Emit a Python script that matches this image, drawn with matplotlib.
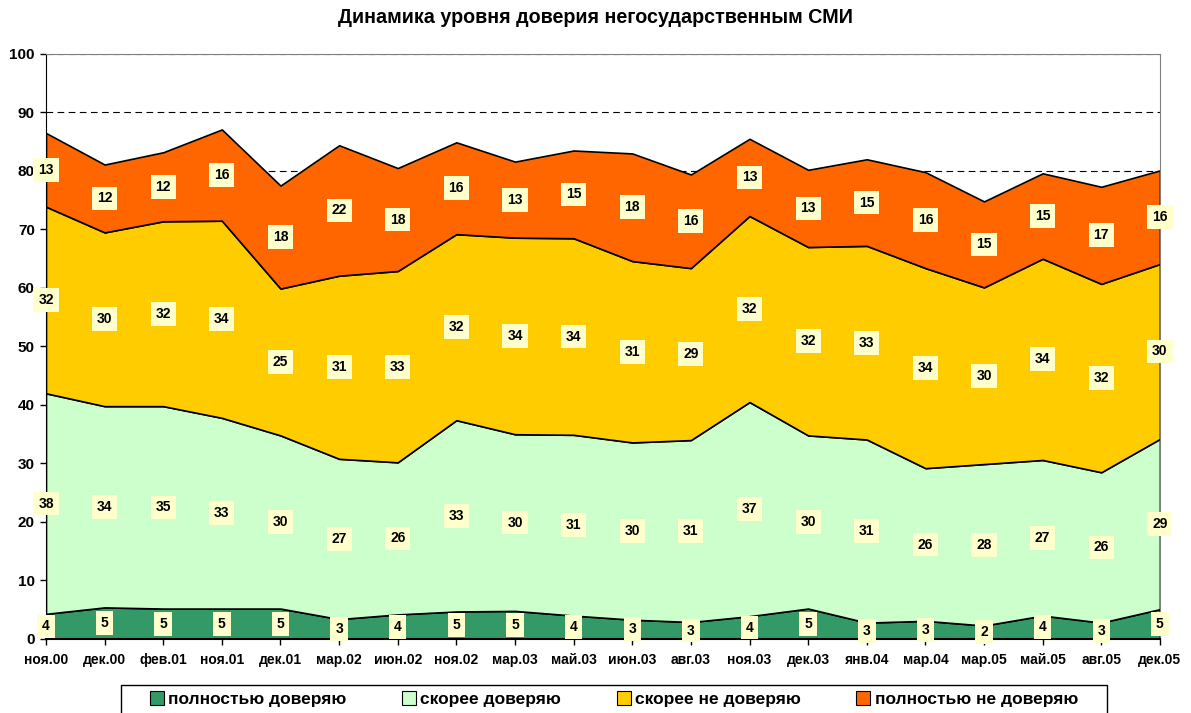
import matplotlib
matplotlib.use('Agg')
import matplotlib.pyplot as plt
import numpy as np
from matplotlib.patches import Patch, Rectangle

plt.rcParams['font.family'] = ['Liberation Sans', 'DejaVu Sans']
plt.rcParams['font.weight'] = 'bold'

# Data
months = ['ноя.00', 'дек.00', 'фев.01', 'ноя.01', 'дек.01', 'мар.02', 'июн.02',
          'ноя.02', 'мар.03', 'май.03', 'июн.03', 'авг.03', 'ноя.03', 'дек.03',
          'янв.04', 'мар.04', 'мар.05', 'май.05', 'авг.05', 'дек.05']
full_trust = [4.3, 5.4, 5.2, 5.2, 5.2, 3.4, 4.2, 4.7, 4.8, 4.0,
              3.3, 2.9, 3.9, 5.2, 2.8, 3.1, 2.3, 4.0, 2.8, 5.1]
rather_trust = [37.7, 34.4, 34.6, 32.6, 29.6, 27.4, 26.0, 32.7, 30.2, 30.9,
                30.3, 31.1, 36.6, 29.6, 31.3, 26.1, 27.6, 26.6, 25.7, 29.1]
rather_distrust = [31.9, 29.7, 31.6, 33.7, 25.1, 31.3, 32.7, 31.8, 33.6, 33.6,
                   31.0, 29.4, 31.8, 32.2, 33.1, 34.2, 30.2, 34.4, 32.2, 29.9]
full_distrust = [12.6, 11.6, 11.8, 15.6, 17.6, 22.3, 17.6, 15.7, 13.0, 15.0,
                 18.4, 16.0, 13.2, 13.2, 14.8, 16.4, 14.7, 14.6, 16.6, 16.0]

series = [full_trust, rather_trust, rather_distrust, full_distrust]
names = ['полностью доверяю', 'скорее доверяю', 'скорее не доверяю', 'полностью не доверяю']
colors = ['#339966', '#CCFFCC', '#FFCC00', '#FF6600']

fig = plt.figure(figsize=(11.91, 7.13), dpi=100)
ax = fig.add_axes([0.0386, 0.1038, 0.9353, 0.8205])

x = np.arange(len(months))
ax.stackplot(x, *series, colors=colors, edgecolor='black', linewidth=1.2, zorder=2)

# data labels in the middle of each band
bottom = np.zeros(len(months))
for vals in series:
    vals = np.array(vals)
    for i, v in enumerate(vals):
        ax.text(x[i], bottom[i] + v / 2, '%d' % round(v), ha='center', va='center',
                fontsize=10, fontweight='bold', zorder=5,
                bbox=dict(boxstyle='square,pad=0.35', fc='#FFFFCC', ec='none'))
    bottom += vals

ax.set_xlim(0, len(months) - 1)
ax.set_ylim(0, 100)
ax.set_yticks(range(0, 101, 10))
ax.set_xticks(x)
ax.set_xticklabels(months)
ax.yaxis.grid(True, linestyle=(0, (6, 4)), color='black', linewidth=0.8, zorder=0)
ax.set_axisbelow(True)
ax.tick_params(axis='x', labelsize=10, direction='out', length=4, width=1, pad=6)
ax.tick_params(axis='y', labelsize=11, direction='out', length=4, width=1, pad=4)
for lbl in ax.get_xticklabels() + ax.get_yticklabels():
    lbl.set_fontweight('bold')

ax.spines['left'].set_color('black')
ax.spines['bottom'].set_color('black')
ax.spines['bottom'].set_linewidth(1.5)
ax.spines['top'].set_color('#808080')
ax.spines['right'].set_color('#808080')

fig.text(0.5, 0.975, 'Динамика уровня доверия негосударственным СМИ',
         ha='center', va='center', fontsize=14.2, fontweight='bold')

# legend box (frame drawn separately so it can be wider than the entries)
fig.patches.append(Rectangle((121 / 1191, -0.01), (1107 - 121) / 1191, 0.01 + 28 / 713,
                             transform=fig.transFigure, fill=False,
                             edgecolor='black', linewidth=1))
handles = [Patch(facecolor=c, edgecolor='black', linewidth=0.8) for c in colors]
leg = fig.legend(handles, names, ncol=4, loc='center', bbox_to_anchor=(0.5155, 0.0196),
                 frameon=False, fontsize=12.5,
                 handlelength=0.8, handleheight=0.9, handletextpad=0.25,
                 columnspacing=3.2, borderpad=0.3, borderaxespad=0)
for t in leg.get_texts():
    t.set_fontweight('bold')

plt.savefig('out.png', dpi=100)
